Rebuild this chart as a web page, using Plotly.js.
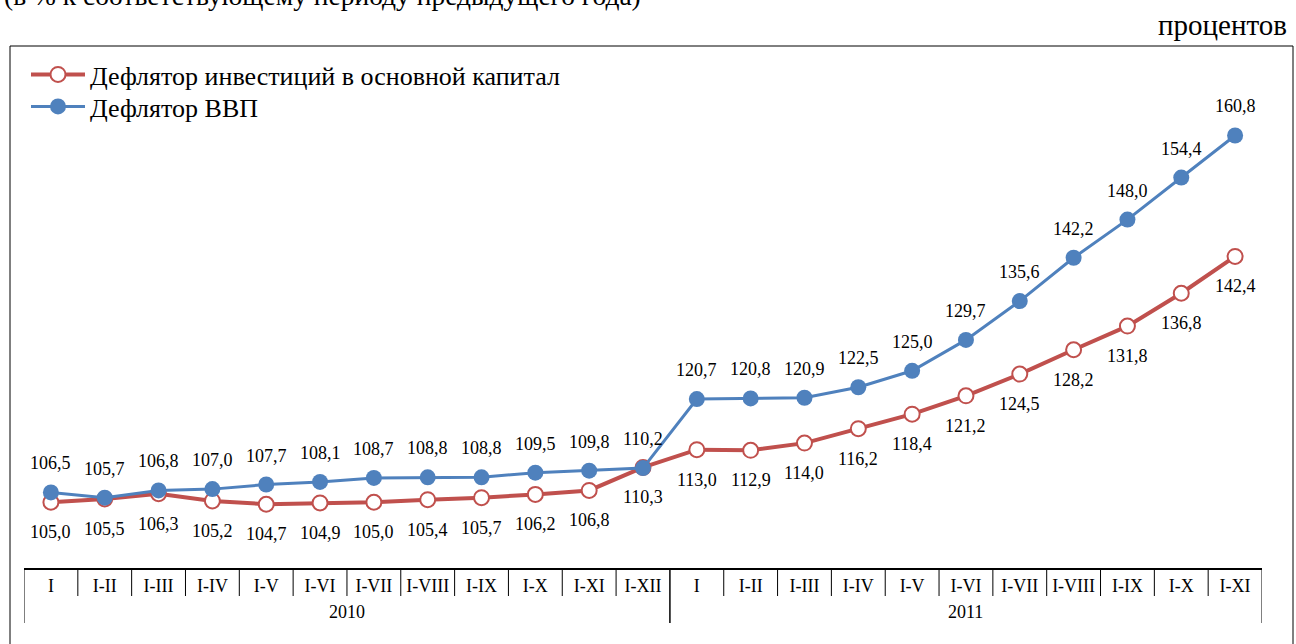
<!DOCTYPE html>
<html>
<head>
<meta charset="utf-8">
<script src="https://cdn.plot.ly/plotly-3.0.1.min.js"></script>
<style>html,body{margin:0;padding:0;background:#fff;}#chart{width:1296px;height:644px;}</style>
</head>
<body>
<div id="chart"></div>
<script>
// ---- data ----
var periods = ["I","I-II","I-III","I-IV","I-V","I-VI","I-VII","I-VIII","I-IX","I-X","I-XI","I-XII",
               "I","I-II","I-III","I-IV","I-V","I-VI","I-VII","I-VIII","I-IX","I-X","I-XI"];
var years = ["2010","2010","2010","2010","2010","2010","2010","2010","2010","2010","2010","2010",
             "2011","2011","2011","2011","2011","2011","2011","2011","2011","2011","2011"];
var investDeflator = [105.0,105.5,106.3,105.2,104.7,104.9,105.0,105.4,105.7,106.2,106.8,110.3,
                      113.0,112.9,114.0,116.2,118.4,121.2,124.5,128.2,131.8,136.8,142.4];
var gdpDeflator = [106.5,105.7,106.8,107.0,107.7,108.1,108.7,108.8,108.8,109.5,109.8,110.2,
                   120.7,120.8,120.9,122.5,125.0,129.7,135.6,142.2,148.0,154.4,160.8];
var seriesNames = ["Дефлятор инвестиций в основной капитал","Дефлятор ВВП"];
var topNote = "(в % к соответствующему периоду предыдущего года)";
var unitNote = "процентов";

// ---- layout helpers (pixel geometry) ----
var W = 1296, H = 644;
var mL = 24, mR = 34, mT = 75, mB = 76;
var plotW = W - mL - mR, plotH = H - mT - mB;
function px2paperX(px){ return (px - mL) / plotW; }
function px2paperY(py){ return (H - mB - py) / plotH; }

var idx = periods.map(function(_, i){ return i; });
var FONT = "Liberation Serif, Times New Roman, serif";
var RED = "#C0504D", BLUE = "#4F81BD";
function fmt(v){ return v.toFixed(1).replace(".", ","); }

var traces = [
  {
    x: idx, y: investDeflator, name: seriesNames[0], type: "scatter", mode: "lines+markers",
    legend: "legend",
    line: {color: RED, width: 4},
    marker: {symbol: "circle", size: 15, color: "#ffffff", line: {color: RED, width: 2}},
    hoverinfo: "skip"
  },
  {
    x: idx, y: gdpDeflator, name: seriesNames[1], type: "scatter", mode: "lines+markers",
    legend: "legend2",
    line: {color: BLUE, width: 3},
    marker: {symbol: "circle", size: 16, color: BLUE, line: {color: BLUE, width: 0}},
    hoverinfo: "skip"
  }
];

var annotations = [];
idx.forEach(function(i){
  annotations.push({x: i, y: gdpDeflator[i], xref: "x", yref: "y", text: fmt(gdpDeflator[i]),
    showarrow: false, yshift: 29, font: {family: FONT, size: 18, color: "#000"}});
  annotations.push({x: i, y: investDeflator[i], xref: "x", yref: "y", text: fmt(investDeflator[i]),
    showarrow: false, yshift: -30, font: {family: FONT, size: 18, color: "#000"}});
});

var yearList = [];
years.forEach(function(y){ if (yearList.indexOf(y) < 0) yearList.push(y); });
var shapes = [];
yearList.forEach(function(yr){
  var members = idx.filter(function(i){ return years[i] === yr; });
  var first = members[0], last = members[members.length - 1];
  annotations.push({x: (first + last) / 2, xref: "x", y: px2paperY(612), yref: "paper",
    text: yr, showarrow: false, yanchor: "middle", font: {family: FONT, size: 18, color: "#000"}});
  [first - 0.5, last + 0.5].forEach(function(b){
    shapes.push({type: "line", xref: "x", yref: "paper", x0: b, x1: b,
      y0: 0, y1: px2paperY(623), line: {color: "#000", width: 1}});
  });
});
idx.forEach(function(i){
  if (i > 0 && years[i] === years[i - 1]) {
    shapes.push({type: "line", xref: "x", yref: "paper", x0: i - 0.5, x1: i - 0.5,
      y0: 0, y1: px2paperY(596), line: {color: "#000", width: 1}});
  }
});
shapes.push({type: "rect", xref: "paper", yref: "paper",
  x0: px2paperX(10), x1: px2paperX(1293), y0: px2paperY(670), y1: px2paperY(46),
  line: {color: "#000", width: 1}, fillcolor: "rgba(0,0,0,0)", layer: "below"});

annotations.push({xref: "paper", yref: "paper", x: px2paperX(2), y: px2paperY(-5),
  xanchor: "left", yanchor: "middle", text: topNote, showarrow: false,
  font: {family: FONT, size: 27.5, color: "#000"}});
annotations.push({xref: "paper", yref: "paper", x: px2paperX(1289), y: px2paperY(25),
  xanchor: "right", yanchor: "middle", text: unitNote, showarrow: false,
  font: {family: FONT, size: 29, color: "#000"}});

var legendFont = {family: FONT, size: 26, color: "#000"};
var layout = {
  width: W, height: H,
  margin: {l: mL, r: mR, t: mT, b: mB, pad: 0},
  paper_bgcolor: "#fff", plot_bgcolor: "#fff",
  separators: ", ",
  showlegend: true,
  legend: {x: px2paperX(26), y: px2paperY(51), xanchor: "left", yanchor: "top",
    font: legendFont, bgcolor: "rgba(0,0,0,0)", itemwidth: 54},
  legend2: {x: px2paperX(26), y: px2paperY(83), xanchor: "left", yanchor: "top",
    font: legendFont, bgcolor: "rgba(0,0,0,0)", itemwidth: 54},
  xaxis: {range: [-0.5, 22.5], tickmode: "array", tickvals: idx, ticktext: periods,
    showgrid: false, zeroline: false, showline: true, linecolor: "#000", linewidth: 2,
    ticks: "", tickfont: {family: FONT, size: 18, color: "#000"}, fixedrange: true},
  yaxis: {range: [95, 170], showgrid: false, zeroline: false, showline: false,
    showticklabels: false, ticks: "", fixedrange: true},
  annotations: annotations,
  shapes: shapes
};

Plotly.newPlot("chart", traces, layout, {displayModeBar: false, staticPlot: true});
</script>
</body>
</html>
